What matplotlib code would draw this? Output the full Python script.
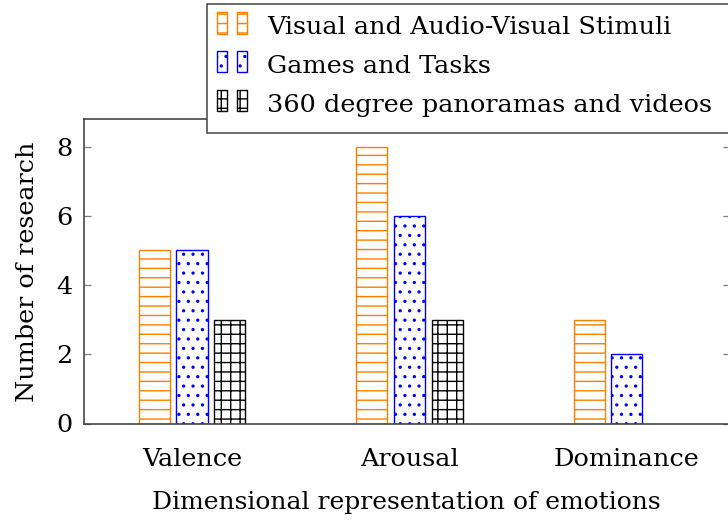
import numpy as np
import matplotlib.pyplot as plt
from matplotlib.patches import Rectangle
from matplotlib.legend_handler import HandlerBase

categories = ["Valence", "Arousal", "Dominance"]
series_names = [
    "Visual and Audio-Visual Stimuli",
    "Games and Tasks",
    "360 degree panoramas and videos",
]
stimuli = [5, 8, 3]
games = [5, 6, 2]
panoramas = [3, 3, 0]

colors = ["#FF8000", "#0000FF", "#000000"]
hatches = ["--", "..", "++"]

# dpi picked so the hatch spacing is close to the original (~9.4 px)
DPI = 113
W, H = 728, 521


def pt(px):
    return px * 72.0 / DPI


plt.rcParams["font.family"] = "DejaVu Serif"
plt.rcParams["hatch.linewidth"] = pt(1.4)


class TwoBarHandler(HandlerBase):
    # pgfplots style legend image: two little bars side by side
    def create_artists(self, legend, orig_handle, xdescent, ydescent,
                       width, height, fontsize, trans):
        w = width * 0.33
        y0 = -ydescent + height * 0.12
        arts = []
        for x0 in (-xdescent, -xdescent + width - w):
            r = Rectangle((x0, y0), w, height,
                          facecolor="white",
                          edgecolor=orig_handle.get_edgecolor(),
                          hatch=orig_handle.get_hatch(),
                          linewidth=pt(1.4), transform=trans)
            arts.append(r)
        return arts


fig = plt.figure(figsize=(W / DPI, H / DPI), dpi=DPI)
ax = fig.add_axes([83.5 / W, 1 - 423.5 / H, (728.5 - 83.5) / W, (423.5 - 119) / H])

x = np.arange(len(categories))
width = 0.143
offset = 0.173
data = [stimuli, games, panoramas]

handles = []
for i, vals in enumerate(data):
    pos = x + (i - 1) * offset
    vals = np.array(vals, dtype=float)
    keep = vals > 0
    ax.bar(pos[keep], vals[keep], width, facecolor="white",
           edgecolor=colors[i], hatch=hatches[i], linewidth=pt(1.4))
    handles.append(Rectangle((0, 0), 1, 1, facecolor="white",
                             edgecolor=colors[i], hatch=hatches[i]))

fs = pt(25.5)
ax.set_xlim(-0.499, 2.467)
ax.set_ylim(0, 8.8)
ax.set_xticks(x)
ax.set_xticklabels(categories)
ax.set_yticks([0, 2, 4, 6, 8])
ax.tick_params(axis="x", length=0, pad=pt(25), labelsize=fs)
ax.tick_params(axis="y", direction="in", length=pt(6.5), width=pt(1.3),
               color="#808080", right=True, pad=pt(11), labelsize=fs)
for s in ax.spines.values():
    s.set_color("#404040")
    s.set_linewidth(pt(1.6))

ax.set_xlabel("Dimensional representation of emotions", fontsize=pt(25),
              labelpad=pt(20))
ax.set_ylabel("Number of research", fontsize=fs, labelpad=pt(17))

# legend frame drawn by hand (pgfplots padding is uneven)
frame = Rectangle((207 / W, 1 - 133 / H), (760 - 207) / W, (133 - 4) / H,
                  transform=fig.transFigure, facecolor="white",
                  edgecolor="#404040", linewidth=pt(1.5), zorder=4)
fig.add_artist(frame)

lfs = pt(25.5)
fig.legend(handles, series_names, loc="upper left",
           bbox_to_anchor=(217 / W, 1 - 15 / H), borderaxespad=0,
           fontsize=lfs, frameon=False,
           handlelength=1.18, handleheight=0.9, handletextpad=0.78,
           borderpad=0, labelspacing=0.56,
           handler_map={Rectangle: TwoBarHandler()})

fig.savefig("out.png", dpi=DPI)
